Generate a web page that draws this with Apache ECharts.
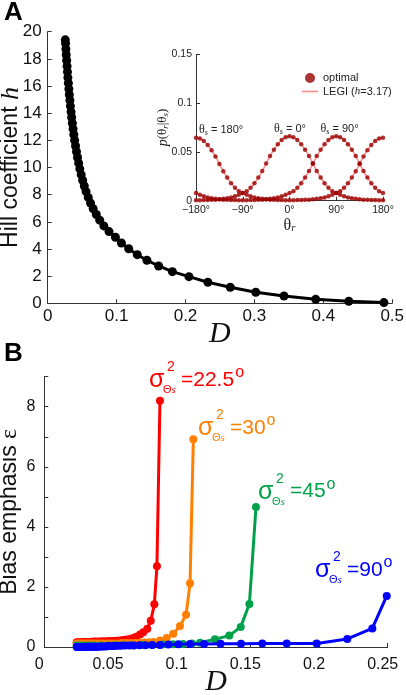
<!DOCTYPE html>
<html><head><meta charset="utf-8">
<script src="https://cdn.jsdelivr.net/npm/echarts@6/dist/echarts.min.js"></script>
<style>html,body{margin:0;padding:0;background:#fff}#c{width:406px;height:695px}</style>
</head><body><div id="c"></div>
<script>
// ---------- Panel A: Hill coefficient h vs D ----------
const hillD = [0.0255,0.0259,0.0264,0.0269,0.0275,0.0281,0.0287,0.0293,0.0300,0.0307,0.0314,0.0322,0.0330,0.0339,0.0348,0.0358,0.0368,0.0379,0.0391,0.0404,0.0418,0.0433,0.0449,0.0466,0.0486,0.0507,0.0531,0.0557,0.0588,0.0622,0.0660,0.0705,0.0755,0.0815,0.0890,0.0983,0.107,0.1176,0.130,0.144,0.161,0.181,0.205,0.2325,0.265,0.302,0.343,0.389,0.437,0.488];
const hillH = [19.40,19.14,18.72,18.30,17.88,17.46,17.04,16.62,16.20,15.78,15.36,14.94,14.52,14.10,13.68,13.26,12.84,12.42,12.00,11.58,11.16,10.74,10.32,9.90,9.48,9.06,8.64,8.22,7.80,7.38,6.96,6.54,6.12,5.70,5.28,4.86,4.44,4.02,3.58,3.17,2.75,2.33,1.96,1.55,1.18,0.81,0.54,0.29,0.15,0.05];

// ---------- Inset: p(theta_r | theta_s) ----------
const thetaR = [-180,-172.5,-165,-157.5,-150,-142.5,-135,-127.5,-120,-112.5,-105,-97.5,-90,-82.5,-75,-67.5,-60,-52.5,-45,-37.5,-30,-22.5,-15,-7.5,0,7.5,15,22.5,30,37.5,45,52.5,60,67.5,75,82.5,90,97.5,105,112.5,120,127.5,135,142.5,150,157.5,165,172.5,180];
const pS0 = [0.0005,0.0005,0.0006,0.0007,0.0009,0.0011,0.0014,0.0019,0.0025,0.0034,0.0045,0.0060,0.0078,0.0098,0.0132,0.0180,0.0238,0.0305,0.0380,0.0458,0.0522,0.0578,0.0622,0.0650,0.0660,0.0650,0.0622,0.0578,0.0522,0.0458,0.0380,0.0305,0.0238,0.0180,0.0132,0.0098,0.0078,0.0060,0.0045,0.0034,0.0025,0.0019,0.0014,0.0011,0.0009,0.0007,0.0006,0.0005,0.0005];
const pS90 = [0.0078,0.0060,0.0045,0.0034,0.0025,0.0019,0.0014,0.0011,0.0009,0.0007,0.0006,0.0005,0.0005,0.0005,0.0006,0.0007,0.0009,0.0011,0.0014,0.0019,0.0025,0.0034,0.0045,0.0060,0.0078,0.0098,0.0132,0.0180,0.0238,0.0305,0.0380,0.0458,0.0522,0.0578,0.0622,0.0650,0.0660,0.0650,0.0622,0.0578,0.0522,0.0458,0.0380,0.0305,0.0238,0.0180,0.0132,0.0098,0.0078];
const pS180 = [0.0645,0.0637,0.0612,0.0570,0.0516,0.0453,0.0377,0.0303,0.0237,0.0180,0.0132,0.0098,0.0078,0.0060,0.0045,0.0034,0.0025,0.0019,0.0014,0.0011,0.0009,0.0007,0.0006,0.0005,0.0005,0.0005,0.0006,0.0007,0.0009,0.0011,0.0014,0.0019,0.0025,0.0034,0.0045,0.0060,0.0078,0.0098,0.0132,0.0180,0.0237,0.0303,0.0377,0.0453,0.0516,0.0570,0.0612,0.0637,0.0645];
const insetXTicks = ['\u2212180\u00b0','\u221290\u00b0','0\u00b0','90\u00b0','180\u00b0'];

// ---------- Panel B: bias emphasis vs D ----------
const dRed = [0.0236,0.0250,0.0265,0.0281,0.0298,0.0316,0.0335,0.0355,0.0376,0.0398,0.0421,0.0445,0.0470,0.0495,0.0521,0.0547,0.0573,0.0598,0.0623,0.0647,0.0670,0.0697,0.0721,0.0750,0.0775,0.0801,0.0820,0.0842];
const eRed = [0.16,0.16,0.16,0.17,0.17,0.17,0.17,0.18,0.18,0.18,0.19,0.19,0.20,0.20,0.21,0.22,0.23,0.25,0.27,0.30,0.34,0.42,0.49,0.61,0.87,1.42,2.69,8.2];
const dOrange = [0.0236,0.0250,0.0265,0.0281,0.0298,0.0316,0.0335,0.0356,0.0378,0.0401,0.0425,0.0451,0.0478,0.0506,0.0535,0.0565,0.0596,0.0628,0.0661,0.0694,0.0728,0.0761,0.0794,0.0842,0.0891,0.0939,0.0988,0.1032,0.1061,0.1085];
const eOrange = [0.12,0.12,0.12,0.12,0.12,0.12,0.12,0.12,0.12,0.12,0.12,0.12,0.12,0.12,0.12,0.13,0.13,0.13,0.13,0.14,0.15,0.16,0.17,0.22,0.30,0.44,0.70,1.07,2.12,6.92];
const dGreen = [0.0236,0.0260,0.0290,0.0325,0.0365,0.0410,0.0460,0.0515,0.0575,0.0640,0.0710,0.0785,0.0860,0.0935,0.1010,0.1075,0.1134,0.1243,0.1347,0.1430,0.1493,0.1541];
const eGreen = [0.05,0.05,0.05,0.05,0.05,0.05,0.05,0.06,0.06,0.06,0.07,0.07,0.08,0.09,0.10,0.12,0.14,0.26,0.38,0.67,1.43,4.66];
const dBlue = [0.0236,0.0240,0.0248,0.0257,0.0266,0.0274,0.0283,0.0292,0.0301,0.0309,0.0318,0.0327,0.0336,0.0346,0.0356,0.0367,0.0379,0.0391,0.0404,0.0419,0.0434,0.0451,0.0469,0.0489,0.0510,0.0533,0.0558,0.0588,0.0619,0.0653,0.0693,0.0737,0.0786,0.0842,0.0903,0.0976,0.1061,0.1163,0.1283,0.1432,0.1587,0.1765,0.1983,0.2206,0.2388,0.2493];
const eBlue = [0.00,0.00,0.00,0.00,0.00,0.00,0.00,0.00,0.00,0.01,0.01,0.01,0.01,0.01,0.01,0.01,0.01,0.01,0.01,0.02,0.02,0.02,0.03,0.03,0.03,0.04,0.04,0.05,0.05,0.05,0.06,0.06,0.07,0.07,0.08,0.09,0.10,0.10,0.11,0.11,0.12,0.12,0.12,0.27,0.62,1.70];
const sigmaLabels = ['22.5','30','45','90'];
const colB = ['#ff0000','#ff8000','#00a14b','#0000ff'];

const pairs = (xs, ys) => xs.map((x, i) => [x, ys[i]]);
const SANS = '"Liberation Sans", Arial, sans-serif';
const SERIF = '"Liberation Serif", "Times New Roman", serif';
const AX = '#333';

const chart = echarts.init(document.getElementById('c'), null, {renderer: 'canvas'});

const ctx = document.createElement('canvas').getContext('2d');
function tw(txt, font) { ctx.font = font; return ctx.measureText(txt).width; }

function sigmaLabel(xl, ym, val, color) {
  const mainFont = '21px ' + SANS;
  const eqText = '=' + val;
  const w = tw(eqText, mainFont);
  return [
    {type: 'text', x: xl, y: ym, style: {text: '\u03c3', font: '25px ' + SANS, fill: color, textVerticalAlign: 'middle'}},
    {type: 'text', x: xl + 18, y: ym - 13, style: {text: '2', font: '14px ' + SANS, fill: color, textVerticalAlign: 'middle'}},
    {type: 'text', x: xl + 14, y: ym + 10, style: {text: '{a|\u0398}{b|s}', fill: color, textVerticalAlign: 'middle',
      rich: {a: {fontSize: 11, fontFamily: SANS, fill: color}, b: {fontSize: 11, fontFamily: SERIF, fontStyle: 'italic', fill: color}}}},
    {type: 'text', x: xl + 32, y: ym, style: {text: eqText, font: mainFont, fill: color, textVerticalAlign: 'middle'}},
    {type: 'text', x: xl + 33 + w, y: ym - 7, style: {text: 'o', font: '16px ' + SANS, fill: color, textVerticalAlign: 'middle'}}
  ];
}
function thetaLabel(xl, ym, txt) {
  return {type: 'text', x: xl, y: ym, style: {text: '{t|\u03b8}{s|s}{n| = ' + txt + '}', textVerticalAlign: 'middle', fill: '#222',
    rich: {t: {fontSize: 12, fontFamily: SERIF, fill: '#222', lineHeight: 14},
           s: {fontSize: 8, fontFamily: SERIF, fontStyle: 'italic', fill: '#222', verticalAlign: 'bottom', lineHeight: 8},
           n: {fontSize: 11, fontFamily: SANS, fill: '#222', lineHeight: 14}}}};
}

const graphics = [
  {type: 'text', x: 4, y: 0, style: {text: 'A', font: 'bold 26px ' + SANS, fill: '#000'}},
  {type: 'text', x: 4, y: 341, style: {text: 'B', font: 'bold 26px ' + SANS, fill: '#000'}},
  thetaLabel(199, 130, '180\u00b0'),
  thetaLabel(274, 128.5, '0\u00b0'),
  thetaLabel(320.5, 128.5, '90\u00b0'),
  ...sigmaLabel(149, 380, sigmaLabels[0], colB[0]),
  ...sigmaLabel(198, 428, sigmaLabels[1], colB[1]),
  ...sigmaLabel(258, 491.7, sigmaLabels[2], colB[2]),
  ...sigmaLabel(315, 570, sigmaLabels[3], colB[3])
];

const axisLineStyle = {show: true, onZero: false, lineStyle: {color: AX, width: 1}};
const tickIn = {show: true, inside: true, length: 4, lineStyle: {color: AX}};

const bSeries = [[dRed, eRed], [dOrange, eOrange], [dGreen, eGreen], [dBlue, eBlue]].map((s, i) => ({
  type: 'line', xAxisIndex: 2, yAxisIndex: 2, data: pairs(s[0], s[1]),
  symbol: 'circle', symbolSize: 8, showSymbol: true, clip: false,
  lineStyle: {color: colB[i], width: 3}, itemStyle: {color: colB[i]}, z: 2 + i
}));

const insetDots = [pS0, pS90, pS180].map(arr => ({
  name: 'optimal', type: 'scatter', xAxisIndex: 1, yAxisIndex: 1, data: pairs(thetaR, arr),
  symbol: 'circle', symbolSize: 4.5, itemStyle: {color: '#9a0000'}, z: 4, clip: false
}));
const insetLines = [pS0, pS90, pS180].map(arr => ({
  name: 'LEGI', type: 'line', xAxisIndex: 1, yAxisIndex: 1, data: pairs(thetaR, arr),
  smooth: true, symbol: 'none', showSymbol: false, lineStyle: {color: '#ff8a8a', width: 1.5}, itemStyle: {color: '#ff8a8a'}, z: 3
}));

const gridBase = {outerBoundsMode: 'none', containLabel: false};

chart.setOption({
  animation: false,
  backgroundColor: '#fff',
  textStyle: {fontFamily: SANS},
  grid: [
    Object.assign({left: 47.7, top: 31.7, width: 344.5, height: 271.6}, gridBase),
    Object.assign({left: 196, top: 54.3, width: 187, height: 146.4}, gridBase),
    Object.assign({left: 44.3, top: 376.7, width: 343.4, height: 270.3}, gridBase)
  ],
  xAxis: [
    {gridIndex: 0, type: 'value', min: 0, max: 0.5, interval: 0.1, axisLine: axisLineStyle, axisTick: tickIn, splitLine: {show: false},
     axisLabel: {fontSize: 17, color: '#111', margin: 5},
     name: 'D', nameLocation: 'middle', nameGap: 16, nameMoveOverlap: false, nameTextStyle: {fontFamily: SERIF, fontStyle: 'italic', fontSize: 30, color: '#111'}},
    {gridIndex: 1, type: 'value', min: -180, max: 180, interval: 90, axisLine: axisLineStyle, axisTick: tickIn, splitLine: {show: false},
     axisLabel: {fontSize: 10.5, color: '#222', margin: 4, formatter: (v) => insetXTicks[Math.round((v + 180) / 90)]},
     name: '{a|\u03b8}{b|r}', nameLocation: 'middle', nameGap: 17, nameMoveOverlap: false,
     nameTextStyle: {rich: {a: {fontFamily: SERIF, fontSize: 16, color: '#222'}, b: {fontFamily: SERIF, fontStyle: 'italic', fontSize: 11, color: '#222', verticalAlign: 'bottom'}}}},
    {gridIndex: 2, type: 'value', min: 0, max: 0.25, interval: 0.05, axisLine: axisLineStyle, axisTick: tickIn, splitLine: {show: false},
     axisLabel: {fontSize: 16, color: '#111', margin: 10, padding: [0, 10, 0, 0]},
     name: 'D', nameLocation: 'middle', nameGap: 20, nameMoveOverlap: false, nameTextStyle: {fontFamily: SERIF, fontStyle: 'italic', fontSize: 30, color: '#111'}}
  ],
  yAxis: [
    {gridIndex: 0, type: 'value', min: 0, max: 20, interval: 2, axisLine: axisLineStyle, axisTick: tickIn, splitLine: {show: false},
     axisLabel: {fontSize: 17, color: '#111', margin: 6},
     name: '{a|Hill coefficient }{b|h}', nameLocation: 'middle', nameGap: 24, nameMoveOverlap: false,
     nameTextStyle: {rich: {a: {fontFamily: SANS, fontSize: 23, color: '#111'}, b: {fontFamily: SERIF, fontStyle: 'italic', fontSize: 26, color: '#111'}}}},
    {gridIndex: 1, type: 'value', min: 0, max: 0.15, interval: 0.05, axisLine: axisLineStyle, axisTick: tickIn, splitLine: {show: false},
     axisLabel: {fontSize: 10.5, color: '#222', margin: 4},
     name: '{i|p}{a|(\u03b8}{b|r}{a||\u03b8}{b|s}{a|)}', nameLocation: 'middle', nameGap: 26, nameMoveOverlap: false,
     nameTextStyle: {rich: {i: {fontFamily: SERIF, fontStyle: 'italic', fontSize: 14, color: '#222'}, a: {fontFamily: SERIF, fontSize: 13, color: '#222'}, b: {fontFamily: SERIF, fontStyle: 'italic', fontSize: 9, color: '#222', verticalAlign: 'bottom'}}}},
    {gridIndex: 2, type: 'value', min: 0, max: 9, interval: 1, axisLine: axisLineStyle, axisTick: tickIn, splitLine: {show: false},
     axisLabel: {fontSize: 16, color: '#111', margin: 9, formatter: (v) => (v % 2 === 0 ? String(v) : '')},
     name: '{a|Bias emphasis }{b|\u03b5}', nameLocation: 'middle', nameGap: 23, nameMoveOverlap: false,
     nameTextStyle: {rich: {a: {fontFamily: SANS, fontSize: 23, color: '#111'}, b: {fontFamily: SERIF, fontSize: 24, color: '#111'}}}}
  ],
  legend: {
    orient: 'vertical', left: 297, top: 67.5, itemWidth: 16, itemHeight: 10, itemGap: 2.5, selectedMode: false,
    data: [{name: 'optimal', icon: 'circle'}, {name: 'LEGI', icon: 'path://M0,0 L16,0 L16,1.6 L0,1.6 Z'}],
    formatter: (n) => (n === 'optimal' ? '{a|optimal}' : '{a|LEGI (}{b|h}{a|=3.17)}'),
    textStyle: {color: '#222', rich: {a: {fontSize: 11, fontFamily: SANS, color: '#222'}, b: {fontSize: 11, fontFamily: SERIF, fontStyle: 'italic', color: '#222'}}}
  },
  graphic: graphics,
  series: [
    {type: 'line', xAxisIndex: 0, yAxisIndex: 0, data: pairs(hillD, hillH), symbol: 'circle', symbolSize: 9, showSymbol: true, clip: false,
     lineStyle: {color: '#000', width: 3}, itemStyle: {color: '#000'}, z: 2},
    ...insetLines,
    ...insetDots,
    ...bSeries
  ]
});
</script>
</body></html>
